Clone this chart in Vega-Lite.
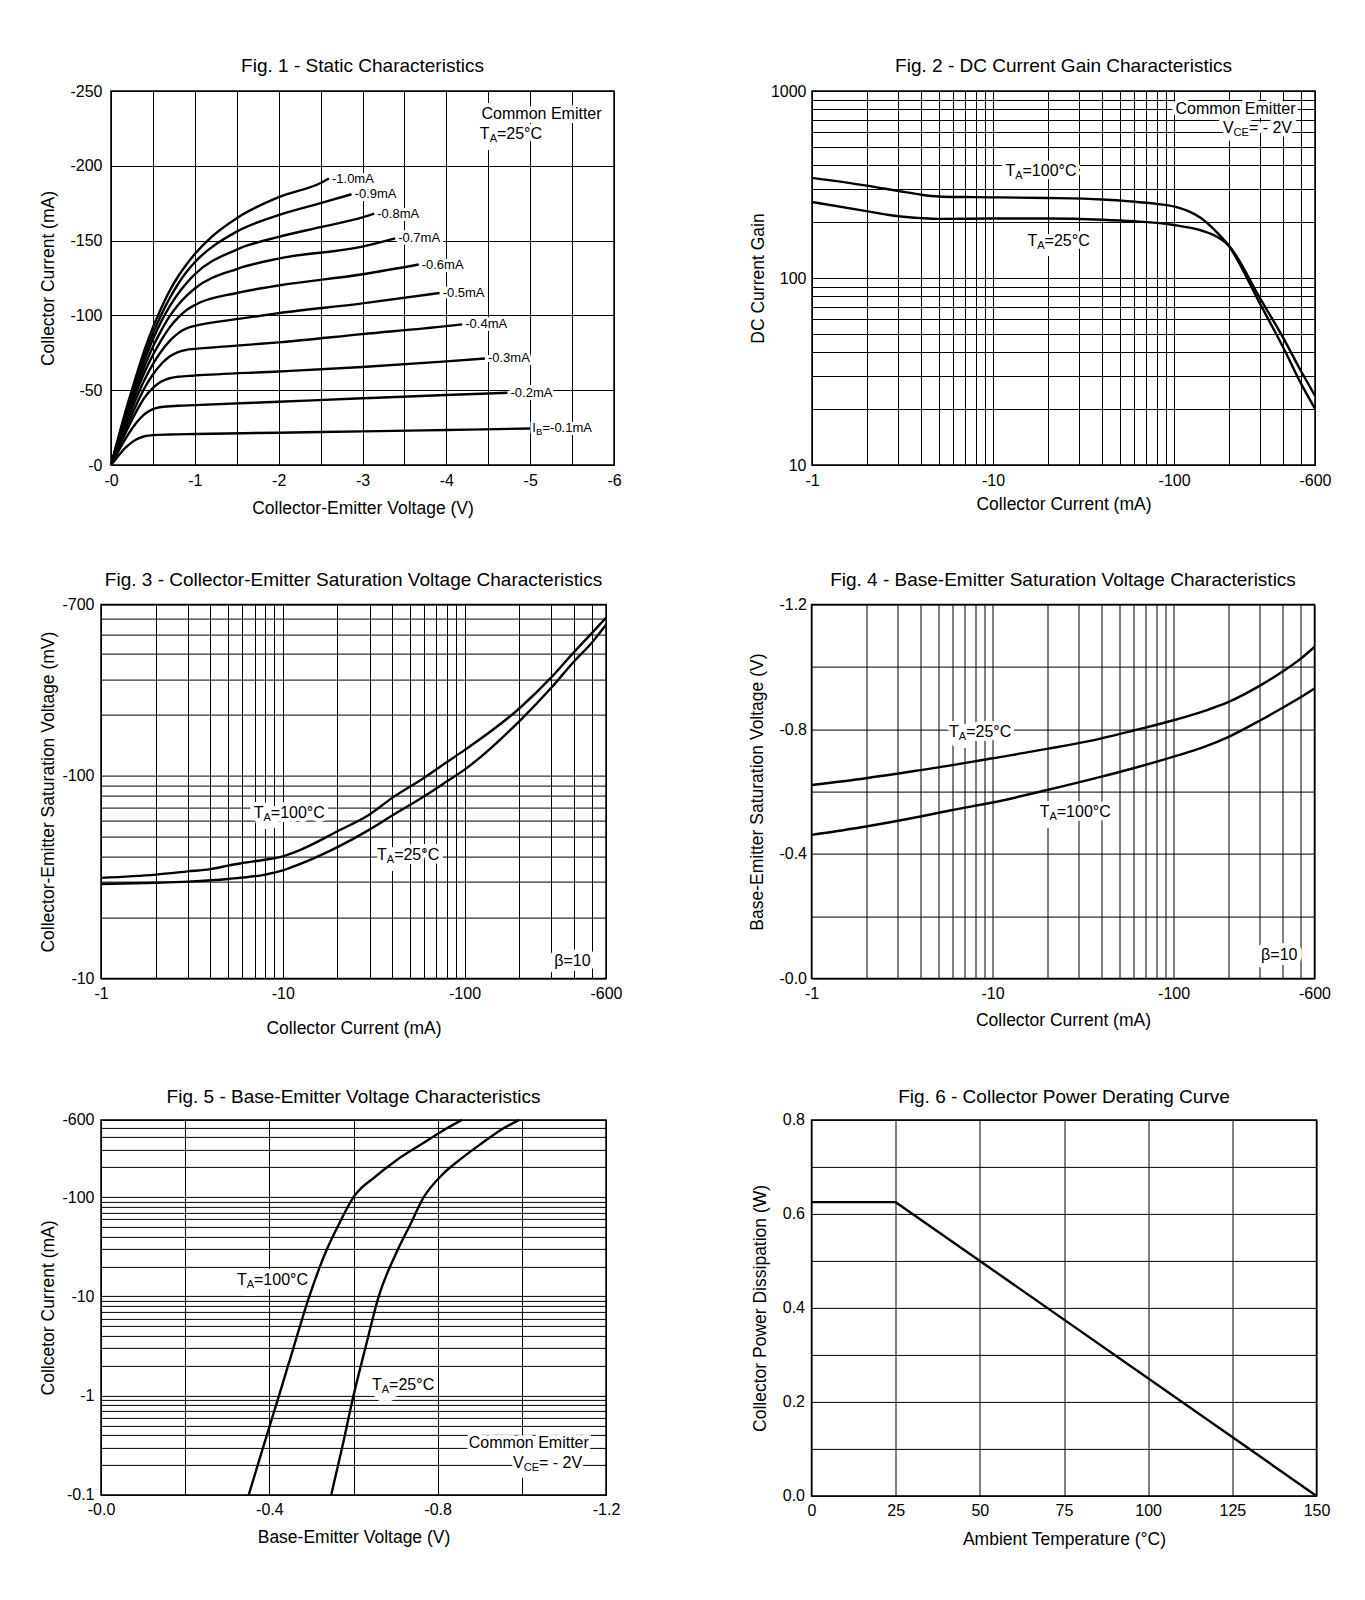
{
"$schema": "https://vega.github.io/schema/vega-lite/v6.json",
"background": "white",
"padding": {"left": 37, "top": 55, "right": 10, "bottom": 10},
"columns": 1,
"align": "none",
"spacing": 48.9,
"config": {
  "font": "Liberation Sans",
  "view": {"stroke": "#000", "strokeWidth": 1.5},
  "axis": {"domain": false, "ticks": false, "grid": true, "gridColor": "#000", "gridOpacity": 1, "gridWidth": 1, "labelFont": "Liberation Sans", "labelFontSize": 16, "labelColor": "#000", "titleFont": "Liberation Sans", "titleFontSize": 17.5, "titleFontWeight": "normal", "titleColor": "#000", "labelOverlap": false, "labelFlush": false, "labelBound": false},
  "axisX": {"labelPadding": 7},
  "title": {"fontSize": 19, "fontWeight": "normal", "color": "#000", "font": "Liberation Sans", "anchor": "middle", "frame": "group"},
  "line": {"color": "#000", "strokeWidth": 2.4, "interpolate": "monotone"},
  "text": {"font": "Liberation Sans"}
},
"datasets": {
  "spacer": [{}],
  "p1": [
    {"IB":"-0.1mA","Vce":0,"Ic":0},{"IB":"-0.1mA","Vce":0.05,"Ic":3.5},{"IB":"-0.1mA","Vce":0.1,"Ic":7},{"IB":"-0.1mA","Vce":0.15,"Ic":10.3},{"IB":"-0.1mA","Vce":0.2,"Ic":13},{"IB":"-0.1mA","Vce":0.3,"Ic":17},{"IB":"-0.1mA","Vce":0.4,"Ic":19.2},{"IB":"-0.1mA","Vce":0.5,"Ic":20},{"IB":"-0.1mA","Vce":0.7,"Ic":20.4},{"IB":"-0.1mA","Vce":1,"Ic":20.7},{"IB":"-0.1mA","Vce":2,"Ic":21.6},{"IB":"-0.1mA","Vce":3,"Ic":22.5},{"IB":"-0.1mA","Vce":4,"Ic":23.4},{"IB":"-0.1mA","Vce":5,"Ic":24.4},
    {"IB":"-0.2mA","Vce":0,"Ic":0},{"IB":"-0.2mA","Vce":0.1,"Ic":10.5},{"IB":"-0.2mA","Vce":0.2,"Ic":20},{"IB":"-0.2mA","Vce":0.3,"Ic":28},{"IB":"-0.2mA","Vce":0.4,"Ic":34},{"IB":"-0.2mA","Vce":0.5,"Ic":37.3},{"IB":"-0.2mA","Vce":0.6,"Ic":38.8},{"IB":"-0.2mA","Vce":0.8,"Ic":39.6},{"IB":"-0.2mA","Vce":1,"Ic":40},{"IB":"-0.2mA","Vce":2,"Ic":42.3},{"IB":"-0.2mA","Vce":3,"Ic":44.6},{"IB":"-0.2mA","Vce":4,"Ic":46.8},{"IB":"-0.2mA","Vce":4.73,"Ic":48.3},
    {"IB":"-0.3mA","Vce":0,"Ic":0},{"IB":"-0.3mA","Vce":0.1,"Ic":12.5},{"IB":"-0.3mA","Vce":0.2,"Ic":24.5},{"IB":"-0.3mA","Vce":0.3,"Ic":35.5},{"IB":"-0.3mA","Vce":0.4,"Ic":45},{"IB":"-0.3mA","Vce":0.5,"Ic":51.5},{"IB":"-0.3mA","Vce":0.6,"Ic":55.8},{"IB":"-0.3mA","Vce":0.7,"Ic":58},{"IB":"-0.3mA","Vce":0.8,"Ic":59},{"IB":"-0.3mA","Vce":1,"Ic":59.8},{"IB":"-0.3mA","Vce":2,"Ic":62.5},{"IB":"-0.3mA","Vce":3,"Ic":65.5},{"IB":"-0.3mA","Vce":4,"Ic":69.3},{"IB":"-0.3mA","Vce":4.46,"Ic":71.2},
    {"IB":"-0.4mA","Vce":0,"Ic":0},{"IB":"-0.4mA","Vce":0.1,"Ic":14},{"IB":"-0.4mA","Vce":0.2,"Ic":27.5},{"IB":"-0.4mA","Vce":0.3,"Ic":40},{"IB":"-0.4mA","Vce":0.4,"Ic":51.5},{"IB":"-0.4mA","Vce":0.5,"Ic":60.5},{"IB":"-0.4mA","Vce":0.6,"Ic":67.5},{"IB":"-0.4mA","Vce":0.7,"Ic":72.5},{"IB":"-0.4mA","Vce":0.8,"Ic":75.5},{"IB":"-0.4mA","Vce":0.9,"Ic":77},{"IB":"-0.4mA","Vce":1,"Ic":77.6},{"IB":"-0.4mA","Vce":1.5,"Ic":79.8},{"IB":"-0.4mA","Vce":2,"Ic":82},{"IB":"-0.4mA","Vce":3,"Ic":87.5},{"IB":"-0.4mA","Vce":4,"Ic":92.8},{"IB":"-0.4mA","Vce":4.19,"Ic":94},
    {"IB":"-0.5mA","Vce":0,"Ic":0},{"IB":"-0.5mA","Vce":0.1,"Ic":15.5},{"IB":"-0.5mA","Vce":0.2,"Ic":30.5},{"IB":"-0.5mA","Vce":0.3,"Ic":44.5},{"IB":"-0.5mA","Vce":0.4,"Ic":57},{"IB":"-0.5mA","Vce":0.5,"Ic":67.5},{"IB":"-0.5mA","Vce":0.6,"Ic":76},{"IB":"-0.5mA","Vce":0.7,"Ic":83},{"IB":"-0.5mA","Vce":0.8,"Ic":88},{"IB":"-0.5mA","Vce":0.9,"Ic":91.3},{"IB":"-0.5mA","Vce":1,"Ic":93},{"IB":"-0.5mA","Vce":1.5,"Ic":97.5},{"IB":"-0.5mA","Vce":2,"Ic":101.5},{"IB":"-0.5mA","Vce":3,"Ic":108},{"IB":"-0.5mA","Vce":3.92,"Ic":115},
    {"IB":"-0.6mA","Vce":0,"Ic":0},{"IB":"-0.6mA","Vce":0.1,"Ic":17},{"IB":"-0.6mA","Vce":0.2,"Ic":33.5},{"IB":"-0.6mA","Vce":0.3,"Ic":48.5},{"IB":"-0.6mA","Vce":0.4,"Ic":62},{"IB":"-0.6mA","Vce":0.5,"Ic":73.5},{"IB":"-0.6mA","Vce":0.6,"Ic":83.5},{"IB":"-0.6mA","Vce":0.7,"Ic":92},{"IB":"-0.6mA","Vce":0.8,"Ic":98.5},{"IB":"-0.6mA","Vce":0.9,"Ic":103.5},{"IB":"-0.6mA","Vce":1,"Ic":107},{"IB":"-0.6mA","Vce":1.5,"Ic":115},{"IB":"-0.6mA","Vce":2,"Ic":120},{"IB":"-0.6mA","Vce":3,"Ic":127.5},{"IB":"-0.6mA","Vce":3.67,"Ic":134},
    {"IB":"-0.7mA","Vce":0,"Ic":0},{"IB":"-0.7mA","Vce":0.1,"Ic":18},{"IB":"-0.7mA","Vce":0.2,"Ic":35.5},{"IB":"-0.7mA","Vce":0.3,"Ic":51.5},{"IB":"-0.7mA","Vce":0.4,"Ic":66},{"IB":"-0.7mA","Vce":0.5,"Ic":79},{"IB":"-0.7mA","Vce":0.6,"Ic":90},{"IB":"-0.7mA","Vce":0.7,"Ic":99.5},{"IB":"-0.7mA","Vce":0.8,"Ic":107},{"IB":"-0.7mA","Vce":0.9,"Ic":113},{"IB":"-0.7mA","Vce":1,"Ic":118},{"IB":"-0.7mA","Vce":1.5,"Ic":131},{"IB":"-0.7mA","Vce":2,"Ic":138},{"IB":"-0.7mA","Vce":3,"Ic":146},{"IB":"-0.7mA","Vce":3.39,"Ic":151.5},
    {"IB":"-0.8mA","Vce":0,"Ic":0},{"IB":"-0.8mA","Vce":0.1,"Ic":19},{"IB":"-0.8mA","Vce":0.2,"Ic":37.5},{"IB":"-0.8mA","Vce":0.3,"Ic":54.5},{"IB":"-0.8mA","Vce":0.4,"Ic":70},{"IB":"-0.8mA","Vce":0.5,"Ic":84},{"IB":"-0.8mA","Vce":0.6,"Ic":96},{"IB":"-0.8mA","Vce":0.7,"Ic":106},{"IB":"-0.8mA","Vce":0.8,"Ic":114.5},{"IB":"-0.8mA","Vce":0.9,"Ic":121.5},{"IB":"-0.8mA","Vce":1,"Ic":127.5},{"IB":"-0.8mA","Vce":1.5,"Ic":144},{"IB":"-0.8mA","Vce":2,"Ic":152.5},{"IB":"-0.8mA","Vce":2.5,"Ic":159},{"IB":"-0.8mA","Vce":3,"Ic":165.5},{"IB":"-0.8mA","Vce":3.14,"Ic":168},
    {"IB":"-0.9mA","Vce":0,"Ic":0},{"IB":"-0.9mA","Vce":0.1,"Ic":20},{"IB":"-0.9mA","Vce":0.2,"Ic":39.5},{"IB":"-0.9mA","Vce":0.3,"Ic":57},{"IB":"-0.9mA","Vce":0.4,"Ic":73.5},{"IB":"-0.9mA","Vce":0.5,"Ic":88},{"IB":"-0.9mA","Vce":0.6,"Ic":100.5},{"IB":"-0.9mA","Vce":0.7,"Ic":111.5},{"IB":"-0.9mA","Vce":0.8,"Ic":121},{"IB":"-0.9mA","Vce":0.9,"Ic":129},{"IB":"-0.9mA","Vce":1,"Ic":135.5},{"IB":"-0.9mA","Vce":1.5,"Ic":156},{"IB":"-0.9mA","Vce":2,"Ic":167},{"IB":"-0.9mA","Vce":2.5,"Ic":175},{"IB":"-0.9mA","Vce":2.87,"Ic":181},
    {"IB":"-1.0mA","Vce":0,"Ic":0},{"IB":"-1.0mA","Vce":0.1,"Ic":21},{"IB":"-1.0mA","Vce":0.2,"Ic":41},{"IB":"-1.0mA","Vce":0.3,"Ic":59.5},{"IB":"-1.0mA","Vce":0.4,"Ic":77},{"IB":"-1.0mA","Vce":0.5,"Ic":92},{"IB":"-1.0mA","Vce":0.6,"Ic":105},{"IB":"-1.0mA","Vce":0.7,"Ic":116.5},{"IB":"-1.0mA","Vce":0.8,"Ic":126},{"IB":"-1.0mA","Vce":0.9,"Ic":134},{"IB":"-1.0mA","Vce":1,"Ic":141},{"IB":"-1.0mA","Vce":1.2,"Ic":152.5},{"IB":"-1.0mA","Vce":1.5,"Ic":165},{"IB":"-1.0mA","Vce":2,"Ic":179},{"IB":"-1.0mA","Vce":2.5,"Ic":188.5},{"IB":"-1.0mA","Vce":2.6,"Ic":191.5}
  ],
  "p1lab": [
    {"Vce":2.6,"Ic":191.5,"label":"-1.0mA"},{"Vce":2.87,"Ic":181,"label":"-0.9mA"},{"Vce":3.14,"Ic":168,"label":"-0.8mA"},{"Vce":3.39,"Ic":151.5,"label":"-0.7mA"},{"Vce":3.67,"Ic":134,"label":"-0.6mA"},{"Vce":3.92,"Ic":115,"label":"-0.5mA"},{"Vce":4.19,"Ic":94,"label":"-0.4mA"},{"Vce":4.46,"Ic":71.2,"label":"-0.3mA"},{"Vce":4.73,"Ic":48.3,"label":"-0.2mA"}
  ],
  "p1ib": [{"Vce":5.0,"Ic":24.4,"main":"I","sub":"B","rest":"=-0.1mA"}],
  "p1ce": [{"Vce":4.42,"Ic":234.4,"note":"Common Emitter"}],
  "p1ta": [{"Vce":4.40,"Ic":221,"main":"T","sub":"A","rest":"=25°C"}],
  "p2": [
    {"T":"100°C","Ic":1,"hFE":343},{"T":"100°C","Ic":2,"hFE":312},{"T":"100°C","Ic":3,"hFE":292},{"T":"100°C","Ic":4,"hFE":279},{"T":"100°C","Ic":5,"hFE":273},{"T":"100°C","Ic":7,"hFE":271},{"T":"100°C","Ic":10,"hFE":270},{"T":"100°C","Ic":20,"hFE":268},{"T":"100°C","Ic":40,"hFE":263},{"T":"100°C","Ic":57,"hFE":257},{"T":"100°C","Ic":80,"hFE":249},{"T":"100°C","Ic":100,"hFE":241},{"T":"100°C","Ic":120,"hFE":228},{"T":"100°C","Ic":140,"hFE":210},{"T":"100°C","Ic":167,"hFE":181},{"T":"100°C","Ic":198,"hFE":151},{"T":"100°C","Ic":300,"hFE":72},{"T":"100°C","Ic":367,"hFE":50},{"T":"100°C","Ic":400,"hFE":42.6},{"T":"100°C","Ic":500,"hFE":27.5},{"T":"100°C","Ic":600,"hFE":20},
    {"T":"25°C","Ic":1,"hFE":255},{"T":"25°C","Ic":2,"hFE":228},{"T":"25°C","Ic":3,"hFE":214},{"T":"25°C","Ic":4,"hFE":209},{"T":"25°C","Ic":5,"hFE":207},{"T":"25°C","Ic":10,"hFE":208},{"T":"25°C","Ic":20,"hFE":208},{"T":"25°C","Ic":40,"hFE":205},{"T":"25°C","Ic":60,"hFE":201},{"T":"25°C","Ic":100,"hFE":192},{"T":"25°C","Ic":140,"hFE":180},{"T":"25°C","Ic":167,"hFE":169},{"T":"25°C","Ic":198,"hFE":151},{"T":"25°C","Ic":300,"hFE":77},{"T":"25°C","Ic":400,"hFE":48},{"T":"25°C","Ic":500,"hFE":32},{"T":"25°C","Ic":600,"hFE":23.5}
  ],
  "p2ta": [{"Ic":11.7,"hFE":373,"main":"T","sub":"A","rest":"=100°C"},{"Ic":15.5,"hFE":157,"main":"T","sub":"A","rest":"=25°C"}],
  "p2ce": [{"Ic":101.8,"hFE":798,"note":"Common Emitter"}],
  "p2vce": [{"Ic":186,"hFE":632,"main":"V","sub":"CE","rest":"= - 2V"}],
  "p3": [
    {"T":"100°C","Ic":1,"Vsat":31.4},{"T":"100°C","Ic":2,"Vsat":32.6},{"T":"100°C","Ic":3,"Vsat":33.8},{"T":"100°C","Ic":4,"Vsat":34.7},{"T":"100°C","Ic":5,"Vsat":36.1},{"T":"100°C","Ic":6,"Vsat":37.2},{"T":"100°C","Ic":8,"Vsat":38.6},{"T":"100°C","Ic":10,"Vsat":40.1},{"T":"100°C","Ic":12.6,"Vsat":43.3},{"T":"100°C","Ic":20,"Vsat":53.3},{"T":"100°C","Ic":30,"Vsat":64.5},{"T":"100°C","Ic":40,"Vsat":77.9},{"T":"100°C","Ic":60,"Vsat":98},{"T":"100°C","Ic":80,"Vsat":117},{"T":"100°C","Ic":100,"Vsat":134},{"T":"100°C","Ic":200,"Vsat":215},{"T":"100°C","Ic":300,"Vsat":306},{"T":"100°C","Ic":400,"Vsat":408},{"T":"100°C","Ic":500,"Vsat":505},{"T":"100°C","Ic":600,"Vsat":603},
    {"T":"25°C","Ic":1,"Vsat":29.3},{"T":"25°C","Ic":2,"Vsat":29.7},{"T":"25°C","Ic":3,"Vsat":30.1},{"T":"25°C","Ic":5,"Vsat":31},{"T":"25°C","Ic":8,"Vsat":32.6},{"T":"25°C","Ic":10,"Vsat":34.2},{"T":"25°C","Ic":12.6,"Vsat":36.9},{"T":"25°C","Ic":20,"Vsat":44.5},{"T":"25°C","Ic":30,"Vsat":54.3},{"T":"25°C","Ic":40,"Vsat":63.7},{"T":"25°C","Ic":60,"Vsat":79.4},{"T":"25°C","Ic":80,"Vsat":94},{"T":"25°C","Ic":100,"Vsat":107.4},{"T":"25°C","Ic":200,"Vsat":186},{"T":"25°C","Ic":300,"Vsat":272},{"T":"25°C","Ic":400,"Vsat":367},{"T":"25°C","Ic":500,"Vsat":453},{"T":"25°C","Ic":600,"Vsat":557}
  ],
  "p3ta": [{"Ic":6.92,"Vsat":65.7,"main":"T","sub":"A","rest":"=100°C"},{"Ic":33,"Vsat":40.9,"main":"T","sub":"A","rest":"=25°C"}],
  "p3b": [{"Ic":494,"Vsat":12.2,"note":"β=10"}],
  "p4": [
    {"T":"25°C","Ic":1,"Vbe":0.621},{"T":"25°C","Ic":2,"Vbe":0.643},{"T":"25°C","Ic":4,"Vbe":0.669},{"T":"25°C","Ic":6,"Vbe":0.685},{"T":"25°C","Ic":10,"Vbe":0.707},{"T":"25°C","Ic":20,"Vbe":0.737},{"T":"25°C","Ic":40,"Vbe":0.771},{"T":"25°C","Ic":60,"Vbe":0.796},{"T":"25°C","Ic":100,"Vbe":0.829},{"T":"25°C","Ic":150,"Vbe":0.86},{"T":"25°C","Ic":200,"Vbe":0.887},{"T":"25°C","Ic":300,"Vbe":0.94},{"T":"25°C","Ic":400,"Vbe":0.985},{"T":"25°C","Ic":500,"Vbe":1.025},{"T":"25°C","Ic":600,"Vbe":1.064},
    {"T":"100°C","Ic":1,"Vbe":0.461},{"T":"100°C","Ic":2,"Vbe":0.488},{"T":"100°C","Ic":4,"Vbe":0.52},{"T":"100°C","Ic":6,"Vbe":0.541},{"T":"100°C","Ic":10,"Vbe":0.565},{"T":"100°C","Ic":20,"Vbe":0.605},{"T":"100°C","Ic":40,"Vbe":0.648},{"T":"100°C","Ic":60,"Vbe":0.675},{"T":"100°C","Ic":100,"Vbe":0.712},{"T":"100°C","Ic":150,"Vbe":0.745},{"T":"100°C","Ic":200,"Vbe":0.775},{"T":"100°C","Ic":300,"Vbe":0.828},{"T":"100°C","Ic":400,"Vbe":0.869},{"T":"100°C","Ic":500,"Vbe":0.902},{"T":"100°C","Ic":600,"Vbe":0.931}
  ],
  "p4ta": [{"Ic":5.75,"Vbe":0.792,"main":"T","sub":"A","rest":"=25°C"},{"Ic":18.2,"Vbe":0.536,"main":"T","sub":"A","rest":"=100°C"}],
  "p4b": [{"Ic":483,"Vbe":0.077,"note":"β=10"}],
  "p5": [
    {"T":"100°C","Vbe":0.351,"Ic":0.1},{"T":"100°C","Vbe":0.385,"Ic":0.3},{"T":"100°C","Vbe":0.423,"Ic":1},{"T":"100°C","Vbe":0.457,"Ic":3},{"T":"100°C","Vbe":0.495,"Ic":10},{"T":"100°C","Vbe":0.537,"Ic":30},{"T":"100°C","Vbe":0.562,"Ic":50},{"T":"100°C","Vbe":0.6,"Ic":100},{"T":"100°C","Vbe":0.652,"Ic":161},{"T":"100°C","Vbe":0.703,"Ic":237},{"T":"100°C","Vbe":0.765,"Ic":349},{"T":"100°C","Vbe":0.815,"Ic":475},{"T":"100°C","Vbe":0.858,"Ic":600},
    {"T":"25°C","Vbe":0.547,"Ic":0.1},{"T":"25°C","Vbe":0.573,"Ic":0.3},{"T":"25°C","Vbe":0.6,"Ic":1},{"T":"25°C","Vbe":0.628,"Ic":3},{"T":"25°C","Vbe":0.66,"Ic":10},{"T":"25°C","Vbe":0.706,"Ic":30},{"T":"25°C","Vbe":0.732,"Ic":50},{"T":"25°C","Vbe":0.767,"Ic":100},{"T":"25°C","Vbe":0.812,"Ic":170},{"T":"25°C","Vbe":0.852,"Ic":237},{"T":"25°C","Vbe":0.905,"Ic":349},{"T":"25°C","Vbe":0.95,"Ic":475},{"T":"25°C","Vbe":0.994,"Ic":600}
  ],
  "p5ta": [{"Vbe":0.323,"Ic":14.7,"main":"T","sub":"A","rest":"=100°C"},{"Vbe":0.644,"Ic":1.28,"main":"T","sub":"A","rest":"=25°C"}],
  "p5ce": [{"Vbe":0.874,"Ic":0.331,"note":"Common Emitter"}],
  "p5vce": [{"Vbe":0.979,"Ic":0.209,"main":"V","sub":"CE","rest":"= - 2V"}],
  "p6": [{"Ta":0,"Pd":0.625},{"Ta":25,"Pd":0.625},{"Ta":150,"Pd":0}]
},
"concat": [
{"columns": 1, "align": "none", "spacing": 51.6, "concat": [
{"hconcat": [
{"hconcat": [
{"width": 1, "height": 1, "view": {"stroke": null}, "data": {"name": "spacer"}, "mark": {"type": "text"}, "encoding": {"text": {"value": ""}}},
{
  "width": 503, "height": 374,
  "title": {"text": "Fig. 1 - Static Characteristics", "offset": 7.5},
  "layer": [
    {"data": {"name": "p1"}, "mark": {"type": "line"},
     "encoding": {
       "x": {"field": "Vce", "type": "quantitative", "scale": {"domain": [0, 6], "nice": false, "zero": false},
             "axis": {"title": "Collector-Emitter Voltage (V)", "values": [0,0.5,1,1.5,2,2.5,3,3.5,4,4.5,5,5.5,6], "labelExpr": "datum.value % 1 === 0 ? '-' + datum.value : ''", "titlePadding": 11}},
       "y": {"field": "Ic", "type": "quantitative", "scale": {"domain": [0, 250], "nice": false},
             "axis": {"title": "Collector Current (mA)", "values": [0,25,50,75,100,125,150,175,200,225,250], "labelExpr": "datum.value % 50 === 0 ? '-' + datum.value : ''", "labelPadding": 9, "titlePadding": 12.5}},
       "detail": {"field": "IB", "type": "nominal"}}},
    {"data": {"name": "p1lab"}, "mark": {"type": "text", "align": "left", "baseline": "middle", "dx": 3, "fontSize": 13, "fill": "#fff", "stroke": "#fff", "strokeWidth": 6, "strokeJoin": "round"},
     "encoding": {"x": {"field": "Vce", "type": "quantitative"}, "y": {"field": "Ic", "type": "quantitative"}, "text": {"field": "label"}}},
    {"data": {"name": "p1ib"}, "mark": {"type": "text", "align": "left", "baseline": "middle", "dx": 2, "fontSize": 13, "fill": "#fff", "stroke": "#fff", "strokeWidth": 6, "strokeJoin": "round"},
     "encoding": {"x": {"field": "Vce", "type": "quantitative"}, "y": {"field": "Ic", "type": "quantitative"}, "text": {"field": "main"}}},
    {"data": {"name": "p1ib"}, "mark": {"type": "text", "align": "left", "baseline": "middle", "dx": 5.8, "dy": 4, "fontSize": 9.5, "fill": "#fff", "stroke": "#fff", "strokeWidth": 10, "strokeJoin": "round"},
     "encoding": {"x": {"field": "Vce", "type": "quantitative"}, "y": {"field": "Ic", "type": "quantitative"}, "text": {"field": "sub"}}},
    {"data": {"name": "p1ib"}, "mark": {"type": "text", "align": "left", "baseline": "middle", "dx": 12.3, "fontSize": 13, "fill": "#fff", "stroke": "#fff", "strokeWidth": 6, "strokeJoin": "round"},
     "encoding": {"x": {"field": "Vce", "type": "quantitative"}, "y": {"field": "Ic", "type": "quantitative"}, "text": {"field": "rest"}}},
    {"data": {"name": "p1ce"}, "mark": {"type": "text", "align": "left", "baseline": "middle", "fontSize": 16, "fill": "#fff", "stroke": "#fff", "strokeWidth": 8, "strokeJoin": "round"},
     "encoding": {"x": {"field": "Vce", "type": "quantitative"}, "y": {"field": "Ic", "type": "quantitative"}, "text": {"field": "note"}}},
    {"data": {"name": "p1ta"}, "mark": {"type": "text", "align": "left", "baseline": "middle", "fontSize": 16, "fill": "#fff", "stroke": "#fff", "strokeWidth": 8, "strokeJoin": "round"},
     "encoding": {"x": {"field": "Vce", "type": "quantitative"}, "y": {"field": "Ic", "type": "quantitative"}, "text": {"field": "main"}}},
    {"data": {"name": "p1ta"}, "mark": {"type": "text", "align": "left", "baseline": "middle", "dx": 9.8, "dy": 5, "fontSize": 11, "fill": "#fff", "stroke": "#fff", "strokeWidth": 16, "strokeJoin": "round"},
     "encoding": {"x": {"field": "Vce", "type": "quantitative"}, "y": {"field": "Ic", "type": "quantitative"}, "text": {"field": "sub"}}},
    {"data": {"name": "p1ta"}, "mark": {"type": "text", "align": "left", "baseline": "middle", "dx": 17.1, "fontSize": 16, "fill": "#fff", "stroke": "#fff", "strokeWidth": 8, "strokeJoin": "round"},
     "encoding": {"x": {"field": "Vce", "type": "quantitative"}, "y": {"field": "Ic", "type": "quantitative"}, "text": {"field": "rest"}}},
    {"data": {"name": "p1lab"}, "mark": {"type": "text", "align": "left", "baseline": "middle", "dx": 3, "fontSize": 13, "fill": "#000"},
     "encoding": {"x": {"field": "Vce", "type": "quantitative"}, "y": {"field": "Ic", "type": "quantitative"}, "text": {"field": "label"}}},
    {"data": {"name": "p1ib"}, "mark": {"type": "text", "align": "left", "baseline": "middle", "dx": 2, "fontSize": 13, "fill": "#000"},
     "encoding": {"x": {"field": "Vce", "type": "quantitative"}, "y": {"field": "Ic", "type": "quantitative"}, "text": {"field": "main"}}},
    {"data": {"name": "p1ib"}, "mark": {"type": "text", "align": "left", "baseline": "middle", "dx": 5.8, "dy": 4, "fontSize": 9.5, "fill": "#000"},
     "encoding": {"x": {"field": "Vce", "type": "quantitative"}, "y": {"field": "Ic", "type": "quantitative"}, "text": {"field": "sub"}}},
    {"data": {"name": "p1ib"}, "mark": {"type": "text", "align": "left", "baseline": "middle", "dx": 12.3, "fontSize": 13, "fill": "#000"},
     "encoding": {"x": {"field": "Vce", "type": "quantitative"}, "y": {"field": "Ic", "type": "quantitative"}, "text": {"field": "rest"}}},
    {"data": {"name": "p1ce"}, "mark": {"type": "text", "align": "left", "baseline": "middle", "fontSize": 16, "fill": "#000"},
     "encoding": {"x": {"field": "Vce", "type": "quantitative"}, "y": {"field": "Ic", "type": "quantitative"}, "text": {"field": "note"}}},
    {"data": {"name": "p1ta"}, "mark": {"type": "text", "align": "left", "baseline": "middle", "fontSize": 16, "fill": "#000"},
     "encoding": {"x": {"field": "Vce", "type": "quantitative"}, "y": {"field": "Ic", "type": "quantitative"}, "text": {"field": "main"}}},
    {"data": {"name": "p1ta"}, "mark": {"type": "text", "align": "left", "baseline": "middle", "dx": 9.8, "dy": 5, "fontSize": 11, "fill": "#000"},
     "encoding": {"x": {"field": "Vce", "type": "quantitative"}, "y": {"field": "Ic", "type": "quantitative"}, "text": {"field": "sub"}}},
    {"data": {"name": "p1ta"}, "mark": {"type": "text", "align": "left", "baseline": "middle", "dx": 17.1, "fontSize": 16, "fill": "#000"},
     "encoding": {"x": {"field": "Vce", "type": "quantitative"}, "y": {"field": "Ic", "type": "quantitative"}, "text": {"field": "rest"}}}
  ]
}
], "spacing": 0},
{
  "width": 503, "height": 374,
  "title": {"text": "Fig. 2 - DC Current Gain Characteristics", "offset": 7.5},
  "layer": [
    {"data": {"name": "p2"}, "mark": {"type": "line"},
     "encoding": {
       "x": {"field": "Ic", "type": "quantitative", "scale": {"type": "log", "domain": [1, 600], "nice": false},
             "axis": {"title": "Collector Current (mA)", "values": [1,2,3,4,5,6,7,8,9,10,20,30,40,50,60,70,80,90,100,200,300,400,500,600], "labelExpr": "indexof([1,10,100,600], datum.value) >= 0 ? '-' + datum.value : ''", "titlePadding": 7}},
       "y": {"field": "hFE", "type": "quantitative", "scale": {"type": "log", "domain": [10, 1000], "nice": false},
             "axis": {"title": "DC Current Gain", "values": [10,20,30,40,50,60,70,80,90,100,200,300,400,500,600,700,800,900,1000], "labelExpr": "indexof([10,100,1000], datum.value) >= 0 ? '' + datum.value : ''", "labelPadding": 6, "titlePadding": 3}},
       "detail": {"field": "T", "type": "nominal"}}},
    {"data": {"name": "p2ta"}, "mark": {"type": "text", "align": "left", "baseline": "middle", "fontSize": 16, "fill": "#fff", "stroke": "#fff", "strokeWidth": 8, "strokeJoin": "round"},
     "encoding": {"x": {"field": "Ic", "type": "quantitative"}, "y": {"field": "hFE", "type": "quantitative"}, "text": {"field": "main"}}},
    {"data": {"name": "p2ta"}, "mark": {"type": "text", "align": "left", "baseline": "middle", "dx": 9.8, "dy": 5, "fontSize": 11, "fill": "#fff", "stroke": "#fff", "strokeWidth": 16, "strokeJoin": "round"},
     "encoding": {"x": {"field": "Ic", "type": "quantitative"}, "y": {"field": "hFE", "type": "quantitative"}, "text": {"field": "sub"}}},
    {"data": {"name": "p2ta"}, "mark": {"type": "text", "align": "left", "baseline": "middle", "dx": 17.1, "fontSize": 16, "fill": "#fff", "stroke": "#fff", "strokeWidth": 8, "strokeJoin": "round"},
     "encoding": {"x": {"field": "Ic", "type": "quantitative"}, "y": {"field": "hFE", "type": "quantitative"}, "text": {"field": "rest"}}},
    {"data": {"name": "p2ce"}, "mark": {"type": "text", "align": "left", "baseline": "middle", "fontSize": 16, "fill": "#fff", "stroke": "#fff", "strokeWidth": 8, "strokeJoin": "round"},
     "encoding": {"x": {"field": "Ic", "type": "quantitative"}, "y": {"field": "hFE", "type": "quantitative"}, "text": {"field": "note"}}},
    {"data": {"name": "p2vce"}, "mark": {"type": "text", "align": "left", "baseline": "middle", "fontSize": 16, "fill": "#fff", "stroke": "#fff", "strokeWidth": 8, "strokeJoin": "round"},
     "encoding": {"x": {"field": "Ic", "type": "quantitative"}, "y": {"field": "hFE", "type": "quantitative"}, "text": {"field": "main"}}},
    {"data": {"name": "p2vce"}, "mark": {"type": "text", "align": "left", "baseline": "middle", "dx": 10.7, "dy": 5, "fontSize": 11, "fill": "#fff", "stroke": "#fff", "strokeWidth": 16, "strokeJoin": "round"},
     "encoding": {"x": {"field": "Ic", "type": "quantitative"}, "y": {"field": "hFE", "type": "quantitative"}, "text": {"field": "sub"}}},
    {"data": {"name": "p2vce"}, "mark": {"type": "text", "align": "left", "baseline": "middle", "dx": 26, "fontSize": 16, "fill": "#fff", "stroke": "#fff", "strokeWidth": 8, "strokeJoin": "round"},
     "encoding": {"x": {"field": "Ic", "type": "quantitative"}, "y": {"field": "hFE", "type": "quantitative"}, "text": {"field": "rest"}}},
    {"data": {"name": "p2ta"}, "mark": {"type": "text", "align": "left", "baseline": "middle", "fontSize": 16, "fill": "#000"},
     "encoding": {"x": {"field": "Ic", "type": "quantitative"}, "y": {"field": "hFE", "type": "quantitative"}, "text": {"field": "main"}}},
    {"data": {"name": "p2ta"}, "mark": {"type": "text", "align": "left", "baseline": "middle", "dx": 9.8, "dy": 5, "fontSize": 11, "fill": "#000"},
     "encoding": {"x": {"field": "Ic", "type": "quantitative"}, "y": {"field": "hFE", "type": "quantitative"}, "text": {"field": "sub"}}},
    {"data": {"name": "p2ta"}, "mark": {"type": "text", "align": "left", "baseline": "middle", "dx": 17.1, "fontSize": 16, "fill": "#000"},
     "encoding": {"x": {"field": "Ic", "type": "quantitative"}, "y": {"field": "hFE", "type": "quantitative"}, "text": {"field": "rest"}}},
    {"data": {"name": "p2ce"}, "mark": {"type": "text", "align": "left", "baseline": "middle", "fontSize": 16, "fill": "#000"},
     "encoding": {"x": {"field": "Ic", "type": "quantitative"}, "y": {"field": "hFE", "type": "quantitative"}, "text": {"field": "note"}}},
    {"data": {"name": "p2vce"}, "mark": {"type": "text", "align": "left", "baseline": "middle", "fontSize": 16, "fill": "#000"},
     "encoding": {"x": {"field": "Ic", "type": "quantitative"}, "y": {"field": "hFE", "type": "quantitative"}, "text": {"field": "main"}}},
    {"data": {"name": "p2vce"}, "mark": {"type": "text", "align": "left", "baseline": "middle", "dx": 10.7, "dy": 5, "fontSize": 11, "fill": "#000"},
     "encoding": {"x": {"field": "Ic", "type": "quantitative"}, "y": {"field": "hFE", "type": "quantitative"}, "text": {"field": "sub"}}},
    {"data": {"name": "p2vce"}, "mark": {"type": "text", "align": "left", "baseline": "middle", "dx": 26, "fontSize": 16, "fill": "#000"},
     "encoding": {"x": {"field": "Ic", "type": "quantitative"}, "y": {"field": "hFE", "type": "quantitative"}, "text": {"field": "rest"}}}
  ]
}
], "spacing": 126},
{"hconcat": [
{"hconcat": [
{"width": 1, "height": 1, "view": {"stroke": null}, "data": {"name": "spacer"}, "mark": {"type": "text"}, "encoding": {"text": {"value": ""}}},
{
  "width": 505, "height": 374,
  "title": {"text": "Fig. 3 - Collector-Emitter Saturation Voltage Characteristics", "offset": 7},
  "layer": [
    {"data": {"name": "p3"}, "mark": {"type": "line"},
     "encoding": {
       "x": {"field": "Ic", "type": "quantitative", "scale": {"type": "log", "domain": [1, 600], "nice": false},
             "axis": {"title": "Collector Current (mA)", "values": [1,2,3,4,5,6,7,8,9,10,20,30,40,50,60,70,80,90,100,200,300,400,500,600], "labelExpr": "indexof([1,10,100,600], datum.value) >= 0 ? '-' + datum.value : ''", "titlePadding": 17.6}},
       "y": {"field": "Vsat", "type": "quantitative", "scale": {"type": "log", "domain": [10, 700], "nice": false},
             "axis": {"title": "Collector-Emitter Saturation Voltage (mV)", "values": [10,20,30,40,50,60,70,80,90,100,200,300,400,500,600,700], "labelExpr": "indexof([10,100,700], datum.value) >= 0 ? '-' + datum.value : ''", "labelPadding": 7, "titlePadding": 4.5}},
       "detail": {"field": "T", "type": "nominal"}}},
    {"data": {"name": "p3ta"}, "mark": {"type": "text", "align": "left", "baseline": "middle", "fontSize": 16, "fill": "#fff", "stroke": "#fff", "strokeWidth": 8, "strokeJoin": "round"},
     "encoding": {"x": {"field": "Ic", "type": "quantitative"}, "y": {"field": "Vsat", "type": "quantitative"}, "text": {"field": "main"}}},
    {"data": {"name": "p3ta"}, "mark": {"type": "text", "align": "left", "baseline": "middle", "dx": 9.8, "dy": 5, "fontSize": 11, "fill": "#fff", "stroke": "#fff", "strokeWidth": 16, "strokeJoin": "round"},
     "encoding": {"x": {"field": "Ic", "type": "quantitative"}, "y": {"field": "Vsat", "type": "quantitative"}, "text": {"field": "sub"}}},
    {"data": {"name": "p3ta"}, "mark": {"type": "text", "align": "left", "baseline": "middle", "dx": 17.1, "fontSize": 16, "fill": "#fff", "stroke": "#fff", "strokeWidth": 8, "strokeJoin": "round"},
     "encoding": {"x": {"field": "Ic", "type": "quantitative"}, "y": {"field": "Vsat", "type": "quantitative"}, "text": {"field": "rest"}}},
    {"data": {"name": "p3b"}, "mark": {"type": "text", "align": "right", "baseline": "middle", "fontSize": 16, "fill": "#fff", "stroke": "#fff", "strokeWidth": 10, "strokeJoin": "round"},
     "encoding": {"x": {"field": "Ic", "type": "quantitative"}, "y": {"field": "Vsat", "type": "quantitative"}, "text": {"field": "note"}}},
    {"data": {"name": "p3ta"}, "mark": {"type": "text", "align": "left", "baseline": "middle", "fontSize": 16, "fill": "#000"},
     "encoding": {"x": {"field": "Ic", "type": "quantitative"}, "y": {"field": "Vsat", "type": "quantitative"}, "text": {"field": "main"}}},
    {"data": {"name": "p3ta"}, "mark": {"type": "text", "align": "left", "baseline": "middle", "dx": 9.8, "dy": 5, "fontSize": 11, "fill": "#000"},
     "encoding": {"x": {"field": "Ic", "type": "quantitative"}, "y": {"field": "Vsat", "type": "quantitative"}, "text": {"field": "sub"}}},
    {"data": {"name": "p3ta"}, "mark": {"type": "text", "align": "left", "baseline": "middle", "dx": 17.1, "fontSize": 16, "fill": "#000"},
     "encoding": {"x": {"field": "Ic", "type": "quantitative"}, "y": {"field": "Vsat", "type": "quantitative"}, "text": {"field": "rest"}}},
    {"data": {"name": "p3b"}, "mark": {"type": "text", "align": "right", "baseline": "middle", "fontSize": 16, "fill": "#000"},
     "encoding": {"x": {"field": "Ic", "type": "quantitative"}, "y": {"field": "Vsat", "type": "quantitative"}, "text": {"field": "note"}}}
  ]
}
], "spacing": 0},
{
  "width": 503, "height": 374,
  "title": {"text": "Fig. 4 - Base-Emitter Saturation Voltage Characteristics", "offset": 7},
  "layer": [
    {"data": {"name": "p4"}, "mark": {"type": "line"},
     "encoding": {
       "x": {"field": "Ic", "type": "quantitative", "scale": {"type": "log", "domain": [1, 600], "nice": false},
             "axis": {"title": "Collector Current (mA)", "values": [1,2,3,4,5,6,7,8,9,10,20,30,40,50,60,70,80,90,100,200,300,400,500,600], "labelExpr": "indexof([1,10,100,600], datum.value) >= 0 ? '-' + datum.value : ''", "titlePadding": 10.3}},
       "y": {"field": "Vbe", "type": "quantitative", "scale": {"domain": [0, 1.2], "nice": false},
             "axis": {"title": "Base-Emitter Saturation Voltage (V)", "values": [0,0.2,0.4,0.6,0.8,1,1.2], "labelExpr": "indexof([0,0.4,0.8,1.2], datum.value) >= 0 ? '-' + format(datum.value, '.1f') : ''", "labelPadding": 5, "titlePadding": 12}},
       "detail": {"field": "T", "type": "nominal"}}},
    {"data": {"name": "p4ta"}, "mark": {"type": "text", "align": "left", "baseline": "middle", "fontSize": 16, "fill": "#fff", "stroke": "#fff", "strokeWidth": 8, "strokeJoin": "round"},
     "encoding": {"x": {"field": "Ic", "type": "quantitative"}, "y": {"field": "Vbe", "type": "quantitative"}, "text": {"field": "main"}}},
    {"data": {"name": "p4ta"}, "mark": {"type": "text", "align": "left", "baseline": "middle", "dx": 9.8, "dy": 5, "fontSize": 11, "fill": "#fff", "stroke": "#fff", "strokeWidth": 16, "strokeJoin": "round"},
     "encoding": {"x": {"field": "Ic", "type": "quantitative"}, "y": {"field": "Vbe", "type": "quantitative"}, "text": {"field": "sub"}}},
    {"data": {"name": "p4ta"}, "mark": {"type": "text", "align": "left", "baseline": "middle", "dx": 17.1, "fontSize": 16, "fill": "#fff", "stroke": "#fff", "strokeWidth": 8, "strokeJoin": "round"},
     "encoding": {"x": {"field": "Ic", "type": "quantitative"}, "y": {"field": "Vbe", "type": "quantitative"}, "text": {"field": "rest"}}},
    {"data": {"name": "p4b"}, "mark": {"type": "text", "align": "right", "baseline": "middle", "fontSize": 16, "fill": "#fff", "stroke": "#fff", "strokeWidth": 10, "strokeJoin": "round"},
     "encoding": {"x": {"field": "Ic", "type": "quantitative"}, "y": {"field": "Vbe", "type": "quantitative"}, "text": {"field": "note"}}},
    {"data": {"name": "p4ta"}, "mark": {"type": "text", "align": "left", "baseline": "middle", "fontSize": 16, "fill": "#000"},
     "encoding": {"x": {"field": "Ic", "type": "quantitative"}, "y": {"field": "Vbe", "type": "quantitative"}, "text": {"field": "main"}}},
    {"data": {"name": "p4ta"}, "mark": {"type": "text", "align": "left", "baseline": "middle", "dx": 9.8, "dy": 5, "fontSize": 11, "fill": "#000"},
     "encoding": {"x": {"field": "Ic", "type": "quantitative"}, "y": {"field": "Vbe", "type": "quantitative"}, "text": {"field": "sub"}}},
    {"data": {"name": "p4ta"}, "mark": {"type": "text", "align": "left", "baseline": "middle", "dx": 17.1, "fontSize": 16, "fill": "#000"},
     "encoding": {"x": {"field": "Ic", "type": "quantitative"}, "y": {"field": "Vbe", "type": "quantitative"}, "text": {"field": "rest"}}},
    {"data": {"name": "p4b"}, "mark": {"type": "text", "align": "right", "baseline": "middle", "fontSize": 16, "fill": "#000"},
     "encoding": {"x": {"field": "Ic", "type": "quantitative"}, "y": {"field": "Vbe", "type": "quantitative"}, "text": {"field": "note"}}}
  ]
}
], "spacing": 124.5}
]},
{"hconcat": [
{"hconcat": [
{"width": 1, "height": 1, "view": {"stroke": null}, "data": {"name": "spacer"}, "mark": {"type": "text"}, "encoding": {"text": {"value": ""}}},
{
  "width": 505, "height": 375,
  "title": {"text": "Fig. 5 - Base-Emitter Voltage Characteristics", "offset": 5},
  "layer": [
    {"data": {"name": "p5"}, "mark": {"type": "line"},
     "encoding": {
       "x": {"field": "Vbe", "type": "quantitative", "scale": {"domain": [0, 1.2], "nice": false, "zero": false},
             "axis": {"title": "Base-Emitter Voltage (V)", "values": [0,0.2,0.4,0.6,0.8,1,1.2], "labelExpr": "indexof([0,0.4,0.8,1.2], datum.value) >= 0 ? '-' + format(datum.value, '.1f') : ''", "titlePadding": 10.4}},
       "y": {"field": "Ic", "type": "quantitative", "scale": {"type": "log", "domain": [0.1, 600], "nice": false},
             "axis": {"title": "Collcetor Current (mA)", "values": [0.1,0.2,0.3,0.4,0.5,0.6,0.7,0.8,0.9,1,2,3,4,5,6,7,8,9,10,20,30,40,50,60,70,80,90,100,200,300,400,500,600], "labelExpr": "indexof([0.1,1,10,100,600], datum.value) >= 0 ? '-' + datum.value : ''", "labelPadding": 7, "titlePadding": 4.5}},
       "detail": {"field": "T", "type": "nominal"}}},
    {"data": {"name": "p5ta"}, "mark": {"type": "text", "align": "left", "baseline": "middle", "fontSize": 16, "fill": "#fff", "stroke": "#fff", "strokeWidth": 8, "strokeJoin": "round"},
     "encoding": {"x": {"field": "Vbe", "type": "quantitative"}, "y": {"field": "Ic", "type": "quantitative"}, "text": {"field": "main"}}},
    {"data": {"name": "p5ta"}, "mark": {"type": "text", "align": "left", "baseline": "middle", "dx": 9.8, "dy": 5, "fontSize": 11, "fill": "#fff", "stroke": "#fff", "strokeWidth": 16, "strokeJoin": "round"},
     "encoding": {"x": {"field": "Vbe", "type": "quantitative"}, "y": {"field": "Ic", "type": "quantitative"}, "text": {"field": "sub"}}},
    {"data": {"name": "p5ta"}, "mark": {"type": "text", "align": "left", "baseline": "middle", "dx": 17.1, "fontSize": 16, "fill": "#fff", "stroke": "#fff", "strokeWidth": 8, "strokeJoin": "round"},
     "encoding": {"x": {"field": "Vbe", "type": "quantitative"}, "y": {"field": "Ic", "type": "quantitative"}, "text": {"field": "rest"}}},
    {"data": {"name": "p5ce"}, "mark": {"type": "text", "align": "left", "baseline": "middle", "fontSize": 16, "fill": "#fff", "stroke": "#fff", "strokeWidth": 8, "strokeJoin": "round"},
     "encoding": {"x": {"field": "Vbe", "type": "quantitative"}, "y": {"field": "Ic", "type": "quantitative"}, "text": {"field": "note"}}},
    {"data": {"name": "p5vce"}, "mark": {"type": "text", "align": "left", "baseline": "middle", "fontSize": 16, "fill": "#fff", "stroke": "#fff", "strokeWidth": 8, "strokeJoin": "round"},
     "encoding": {"x": {"field": "Vbe", "type": "quantitative"}, "y": {"field": "Ic", "type": "quantitative"}, "text": {"field": "main"}}},
    {"data": {"name": "p5vce"}, "mark": {"type": "text", "align": "left", "baseline": "middle", "dx": 10.7, "dy": 5, "fontSize": 11, "fill": "#fff", "stroke": "#fff", "strokeWidth": 16, "strokeJoin": "round"},
     "encoding": {"x": {"field": "Vbe", "type": "quantitative"}, "y": {"field": "Ic", "type": "quantitative"}, "text": {"field": "sub"}}},
    {"data": {"name": "p5vce"}, "mark": {"type": "text", "align": "left", "baseline": "middle", "dx": 26, "fontSize": 16, "fill": "#fff", "stroke": "#fff", "strokeWidth": 8, "strokeJoin": "round"},
     "encoding": {"x": {"field": "Vbe", "type": "quantitative"}, "y": {"field": "Ic", "type": "quantitative"}, "text": {"field": "rest"}}},
    {"data": {"name": "p5ta"}, "mark": {"type": "text", "align": "left", "baseline": "middle", "fontSize": 16, "fill": "#000"},
     "encoding": {"x": {"field": "Vbe", "type": "quantitative"}, "y": {"field": "Ic", "type": "quantitative"}, "text": {"field": "main"}}},
    {"data": {"name": "p5ta"}, "mark": {"type": "text", "align": "left", "baseline": "middle", "dx": 9.8, "dy": 5, "fontSize": 11, "fill": "#000"},
     "encoding": {"x": {"field": "Vbe", "type": "quantitative"}, "y": {"field": "Ic", "type": "quantitative"}, "text": {"field": "sub"}}},
    {"data": {"name": "p5ta"}, "mark": {"type": "text", "align": "left", "baseline": "middle", "dx": 17.1, "fontSize": 16, "fill": "#000"},
     "encoding": {"x": {"field": "Vbe", "type": "quantitative"}, "y": {"field": "Ic", "type": "quantitative"}, "text": {"field": "rest"}}},
    {"data": {"name": "p5ce"}, "mark": {"type": "text", "align": "left", "baseline": "middle", "fontSize": 16, "fill": "#000"},
     "encoding": {"x": {"field": "Vbe", "type": "quantitative"}, "y": {"field": "Ic", "type": "quantitative"}, "text": {"field": "note"}}},
    {"data": {"name": "p5vce"}, "mark": {"type": "text", "align": "left", "baseline": "middle", "fontSize": 16, "fill": "#000"},
     "encoding": {"x": {"field": "Vbe", "type": "quantitative"}, "y": {"field": "Ic", "type": "quantitative"}, "text": {"field": "main"}}},
    {"data": {"name": "p5vce"}, "mark": {"type": "text", "align": "left", "baseline": "middle", "dx": 10.7, "dy": 5, "fontSize": 11, "fill": "#000"},
     "encoding": {"x": {"field": "Vbe", "type": "quantitative"}, "y": {"field": "Ic", "type": "quantitative"}, "text": {"field": "sub"}}},
    {"data": {"name": "p5vce"}, "mark": {"type": "text", "align": "left", "baseline": "middle", "dx": 26, "fontSize": 16, "fill": "#000"},
     "encoding": {"x": {"field": "Vbe", "type": "quantitative"}, "y": {"field": "Ic", "type": "quantitative"}, "text": {"field": "rest"}}}
  ]
}
], "spacing": 0},
{
  "width": 505, "height": 376,
  "title": {"text": "Fig. 6 - Collector Power Derating Curve", "offset": 5},
  "data": {"name": "p6"},
  "mark": {"type": "line", "interpolate": "linear"},
  "encoding": {
    "x": {"field": "Ta", "type": "quantitative", "scale": {"domain": [0, 150], "nice": false},
          "axis": {"title": "Ambient Temperature (°C)", "values": [0,25,50,75,100,125,150], "titlePadding": 11.5}},
    "y": {"field": "Pd", "type": "quantitative", "scale": {"domain": [0, 0.8], "nice": false},
          "axis": {"title": "Collector Power Dissipation  (W)", "values": [0,0.1,0.2,0.3,0.4,0.5,0.6,0.7,0.8], "labelExpr": "indexof([0,0.2,0.4,0.6,0.8], datum.value) >= 0 ? format(datum.value, '.1f') : ''", "labelPadding": 7, "titlePadding": 13}}
  }
}
], "spacing": 129.5}
]
}
